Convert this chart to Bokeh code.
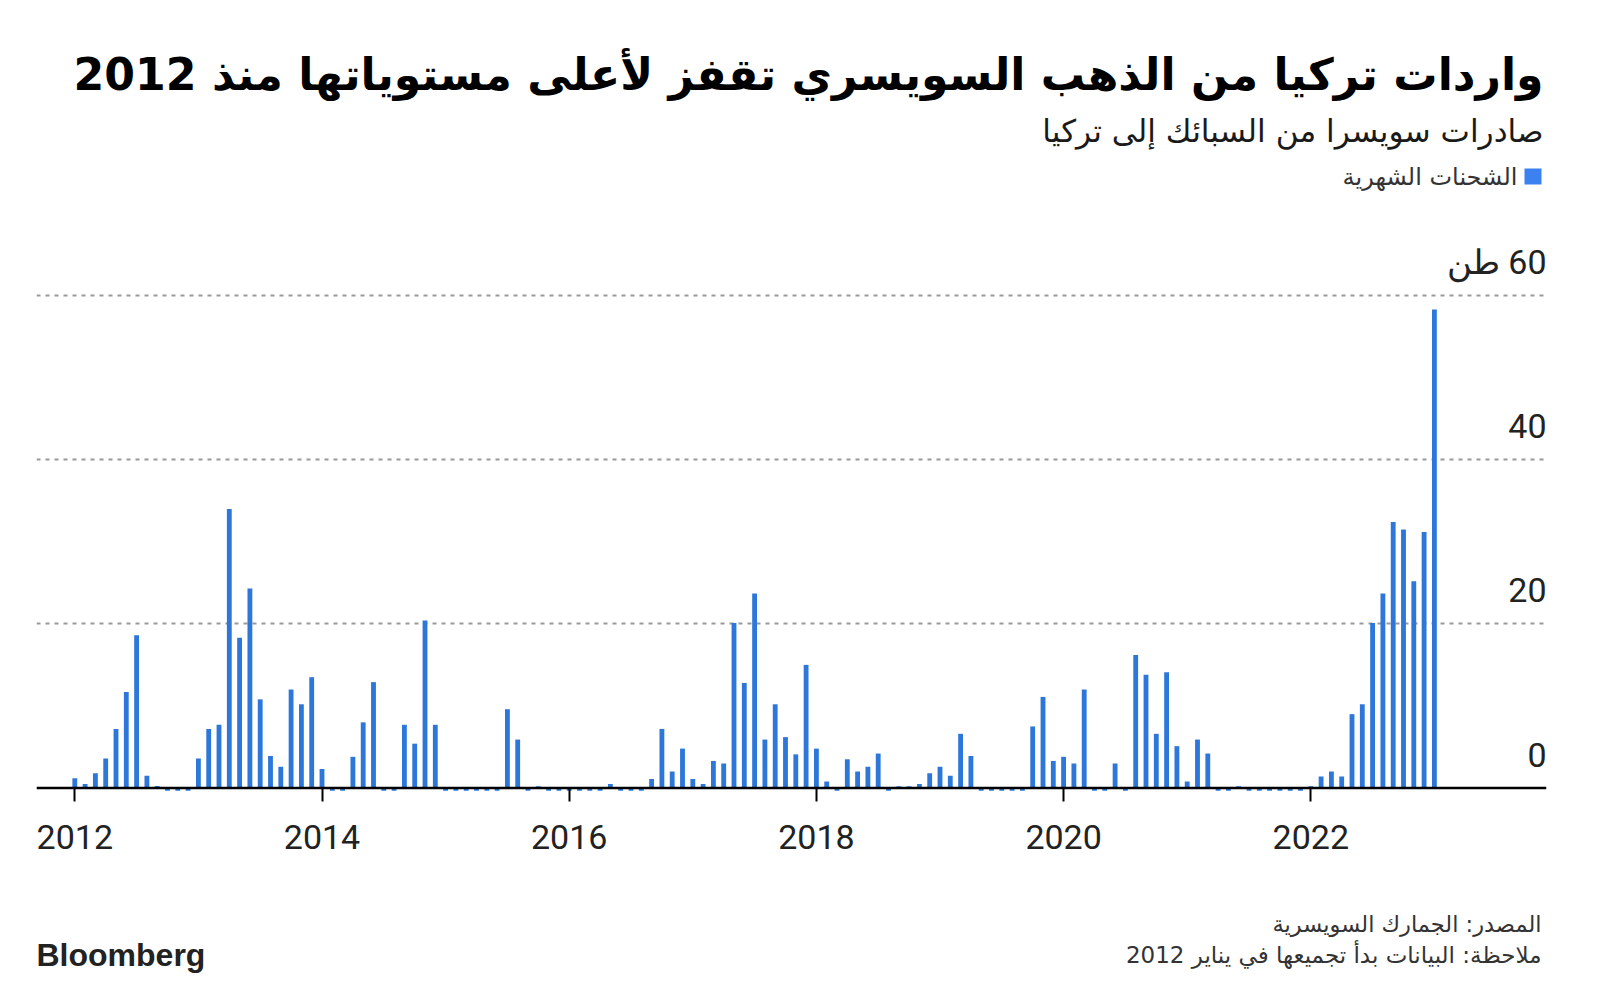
from bokeh.plotting import figure
from bokeh.layouts import column
from bokeh.models import Range1d, FixedTicker, Grid, Span, Label, BoxAnnotation, ColumnDataSource
from bokeh.embed import file_html
from bokeh.resources import INLINE

# ---- data: monthly Swiss gold exports to Turkey (tonnes), Jan 2012 .. Jan 2023
v2012 = [1.2, 0.5, 1.8, 3.6, 7.2, 11.7, 18.6, 1.5, 0.25, -0.35, -0.35, -0.35]
v2013 = [3.6, 7.2, 7.7, 34.0, 18.3, 24.3, 10.8, 3.9, 2.6, 12.0, 10.2, 13.5]
v2014 = [2.3, -0.35, -0.35, 3.8, 8.0, 12.9, -0.35, -0.35, 7.7, 5.4, 20.4, 7.7]
v2015 = [-0.35, -0.35, -0.35, -0.35, -0.35, -0.35, 9.6, 5.9, -0.35, 0.2, -0.35, -0.35]
v2016 = [-0.35, -0.35, -0.35, -0.35, 0.5, -0.35, -0.35, -0.35, 1.1, 7.2, 2.0, 4.8]
v2017 = [1.1, 0.5, 3.3, 3.0, 20.1, 12.8, 23.7, 5.9, 10.2, 6.2, 4.1, 15.0]
v2018 = [4.8, 0.8, -0.35, 3.5, 2.0, 2.6, 4.2, -0.35, 0.2, 0.2, 0.5, 1.8]
v2019 = [2.6, 1.5, 6.6, 3.9, -0.35, -0.35, -0.35, -0.35, -0.35, 7.5, 11.1, 3.3]
v2020 = [3.8, 3.0, 12.0, -0.35, -0.35, 3.0, -0.35, 16.2, 13.8, 6.6, 14.1, 5.1]
v2021 = [0.8, 5.9, 4.2, -0.35, -0.35, 0.2, -0.35, -0.35, -0.35, -0.35, -0.35, -0.35]
v2022 = [0.2, 1.4, 2.0, 1.4, 9.0, 10.2, 20.1, 23.7, 32.4, 31.5, 25.2, 31.2]
v2023 = [58.3]

years = [2012, 2014, 2016, 2018, 2020, 2022]
y_ticks = [0, 20, 40, 60]
y_labels = ["0", "20", "40", "طن \u200e60"]

title_text = "واردات تركيا من الذهب السويسري تقفز لأعلى مستوياتها منذ 2012"
subtitle_text = "صادرات سويسرا من السبائك إلى تركيا"
legend_text = "الشحنات الشهرية"
source_text = "المصدر: الجمارك السويسرية"
note_text = "ملاحظة: البيانات بدأ تجميعها في يناير 2012"

values = v2012 + v2013 + v2014 + v2015 + v2016 + v2017 + v2018 + v2019 + v2020 + v2021 + v2022 + v2023
months = list(range(len(values)))

BLUE = "#2e77da"
LEGEND_BLUE = "#3b82f0"
AR_FONT = "DejaVu Sans"

W = 1600
HEAD_H = 150          # header panel: 0..150 px
MAIN_BOTTOM = 880     # main panel: 150..880 px
FOOT_H = 986 - MAIN_BOTTOM
FL, FR = 36, 1546     # frame left / right (page px), shared by all panels


def blank(height, y_top, y_bottom):
    f = figure(width=W, height=height, output_backend="svg", toolbar_location=None,
               x_range=Range1d(FL, FR), y_range=Range1d(y_bottom, y_top),
               x_axis_location=None, y_axis_location=None,
               min_border_left=FL, min_border_right=W - FR,
               min_border_top=0, min_border_bottom=0,
               background_fill_color="white", border_fill_color="white",
               outline_line_color=None)
    for g in f.grid:
        g.visible = False
    return f


# ---------------- header (title + subtitle)
head = blank(HEAD_H, 0, HEAD_H)
head.add_layout(Label(x=1543, y=74, text=title_text, text_align="right",
                      text_baseline="middle", text_font=AR_FONT, text_font_style="bold",
                      text_font_size="44.2px", text_color="#000000"))
head.add_layout(Label(x=1543, y=130, text=subtitle_text, text_align="right",
                      text_baseline="middle", text_font=AR_FONT,
                      text_font_size="31.2px", text_color="#1a1a1a"))

# ---------------- main chart
X0, DX = 74.3, 10.3      # px of first month, px per month
Y0, DY = 787.5, 8.2083   # px of zero line, px per tonne (page coordinates)
def dx(px):
    return (px - X0) / DX
def dy(py):
    return (Y0 - py) / DY

FT, FB = HEAD_H, 791

p = figure(width=W, height=MAIN_BOTTOM - HEAD_H, output_backend="svg", toolbar_location=None,
           x_range=Range1d(dx(FL), dx(FR)), y_range=Range1d(dy(FB), dy(FT)),
           y_axis_location=None,
           min_border_left=FL, min_border_right=W - FR,
           min_border_top=0, min_border_bottom=MAIN_BOTTOM - FB,
           background_fill_color="white", border_fill_color="white",
           outline_line_color=None)
for g in p.grid:
    g.visible = False

grid = Grid(dimension=1, ticker=FixedTicker(ticks=[20, 40, 60]),
            grid_line_color="#999999", grid_line_dash="4 5", grid_line_width=2)
p.add_layout(grid)

src = ColumnDataSource(dict(x=months, v=values))
p.vbar(x="x", top="v", bottom=0, width=0.47, source=src,
       fill_color=BLUE, line_color=None)

p.add_layout(Span(location=0, dimension="width", line_color="black", line_width=2.6))

ax = p.xaxis[0]
ax.ticker = FixedTicker(ticks=[(y - 2012) * 12 for y in years])
ax.major_label_overrides = {(y - 2012) * 12: str(y) for y in years}
ax.axis_line_color = None
ax.major_tick_line_color = "black"
ax.major_tick_line_width = 2
ax.major_tick_in = 4
ax.major_tick_out = 10
ax.minor_tick_line_color = None
ax.major_label_text_font = "Roboto"
ax.major_label_text_font_size = "34px"
ax.major_label_text_color = "#222222"
ax.major_label_standoff = 23

for v, t in zip(y_ticks, y_labels):
    p.add_layout(Label(x=dx(1546), y=v + 33.5 / DY, text=t, text_align="right",
                       text_baseline="alphabetic", text_font="Roboto",
                       text_font_size="34px", text_color="#222222"))

p.add_layout(BoxAnnotation(left=dx(1524), right=dx(1541), top=dy(168), bottom=dy(184),
                           fill_color=LEGEND_BLUE, fill_alpha=1.0, line_color=None))
p.add_layout(Label(x=dx(1517), y=dy(176), text=legend_text, text_align="right",
                   text_baseline="middle", text_font=AR_FONT,
                   text_font_size="24px", text_color="#333333"))

# ---------------- footer
foot = blank(FOOT_H, MAIN_BOTTOM, 986)
foot.add_layout(Label(x=1541, y=923, text=source_text, text_align="right",
                      text_baseline="middle", text_font=AR_FONT,
                      text_font_size="22.5px", text_color="#333333"))
foot.add_layout(Label(x=1541, y=954, text=note_text, text_align="right",
                      text_baseline="middle", text_font=AR_FONT,
                      text_font_size="23px", text_color="#333333"))
foot.add_layout(Label(x=36, y=954, text="Bloomberg", text_align="left",
                      text_baseline="alphabetic", text_font="Liberation Sans",
                      text_font_style="bold", text_font_size="32px", text_color="#222222"))

layout = column(head, p, foot, spacing=0)
open("out.html", "w").write(file_html(layout, INLINE))
